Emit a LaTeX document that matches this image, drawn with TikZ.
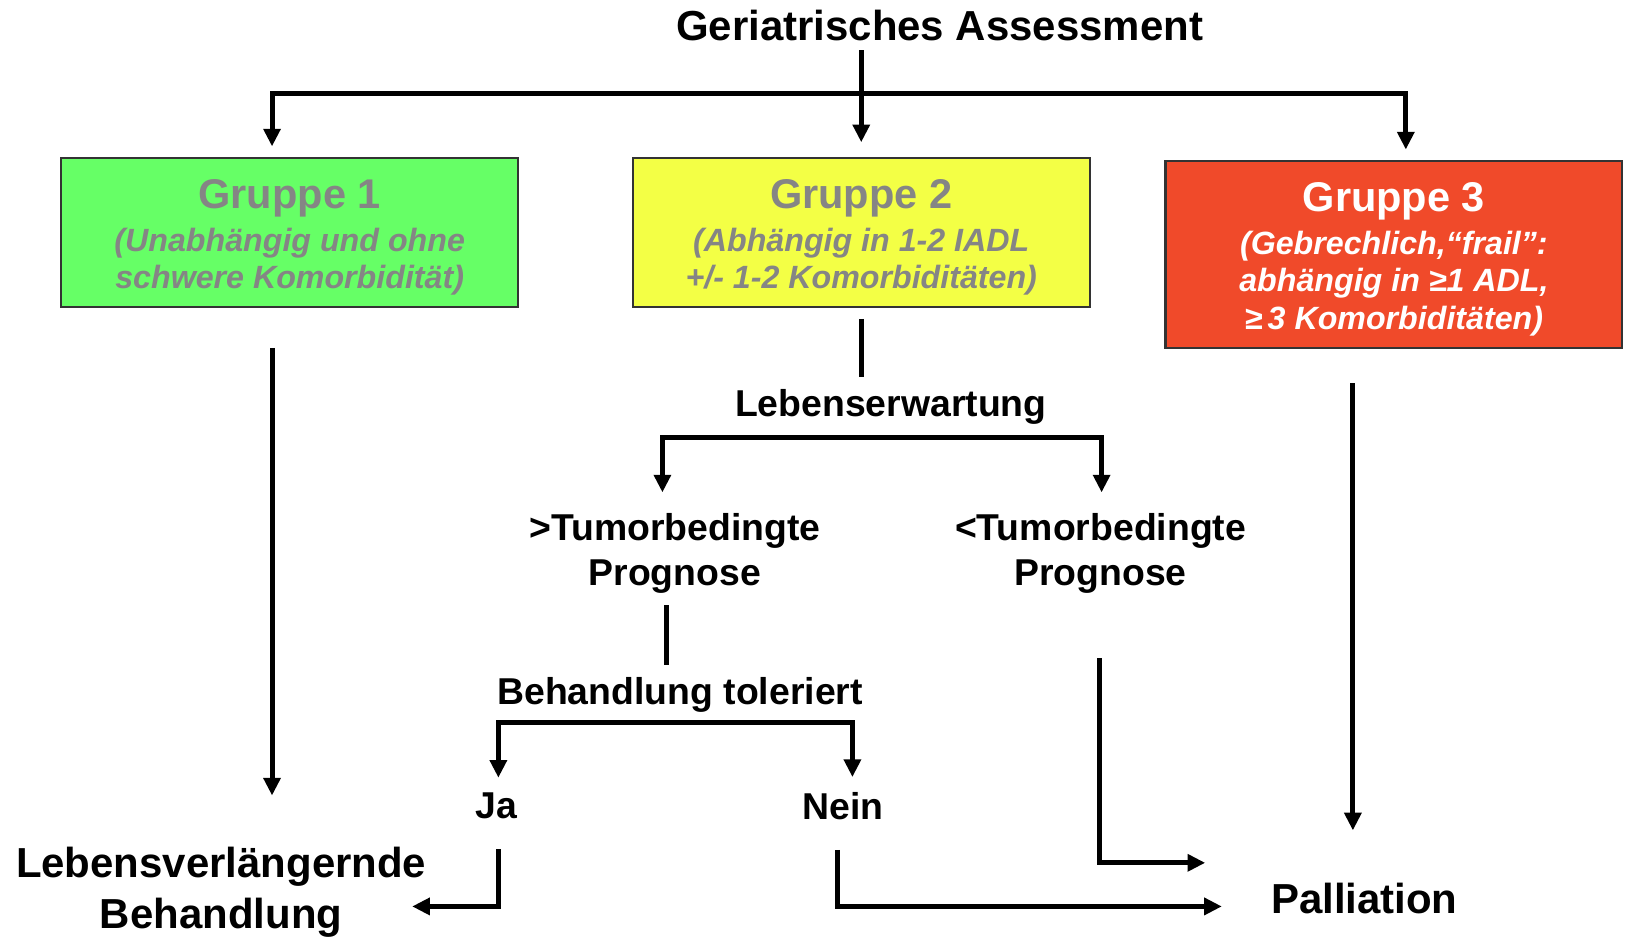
\documentclass[tikz,border=0pt]{standalone}
\usepackage{fontspec}
\setmainfont{Liberation Sans}
\usetikzlibrary{arrows.meta}
\definecolor{gruen}{HTML}{66FF66}
\definecolor{gelb}{HTML}{F3FF45}
\definecolor{rot}{HTML}{F04A2A}
\definecolor{grau}{HTML}{858585}
\tikzset{
  gruppe/.style={draw=black!80, line width=1pt, minimum width=220pt, minimum height=72pt,
    align=center, inner sep=0pt, font=\fontsize{15.5}{18}\selectfont\bfseries\itshape},
  txt/.style={inner sep=0pt, align=center, font=\fontsize{18}{21.5}\selectfont\bfseries},
  bigtxt/.style={inner sep=0pt, align=center, font=\fontsize{20.2}{24.5}\selectfont\bfseries},
  plain/.style={line width=2.4pt},
  flow/.style={line width=2.4pt, -{Triangle[length=8.5pt,width=8pt]}},
  twoway/.style={line width=2.4pt, {Triangle[length=8.5pt,width=8pt]}-{Triangle[length=8.5pt,width=8pt]}},
}
\newcommand{\gtitel}[1]{{\fontsize{20}{24}\selectfont\upshape\rule{0pt}{18.6pt}#1}}
\begin{document}
\begin{tikzpicture}[x=0.5pt,y=-0.5pt]
\useasboundingbox (0,0) rectangle (1568,902);
% Kopf und Gruppen
\node[bigtxt] (assess) at (905,25) {Geriatrisches Assessment};
\node[gruppe, fill=gruen, text=grau] (g1) at (279,224)
  {\gtitel{Gruppe 1}\\[2.5pt](Unabhängig und ohne\\schwere Komorbidität)};
\node[gruppe, fill=gelb, text=grau] (g2) at (829.5,224)
  {\gtitel{Gruppe 2}\\[2.5pt](Abhängig in 1-2 IADL\\+/- 1-2 Komorbiditäten)};
\node[gruppe, fill=rot, text=white, minimum height=90pt] (g3) at (1342.5,245)
  {\gtitel{Gruppe 3}\\[2.5pt](Gebrechlich,“frail”:\\abhängig in ≥1 ADL,\\≥\,3 Komorbiditäten)};
\coordinate (v1) at (262,90);
\coordinate (v3) at (1354,90);
\draw[flow, shorten <=4pt, shorten >=7pt] (assess.south -| g2) -- (g2.north);
\draw[twoway, shorten <=5pt, shorten >=5pt] (v1 |- g1.north) -- (v1) -- (v3) -- (v3 |- g3.north);
% Gruppe 2
\node[txt] (lebens) at (858,392) {Lebenserwartung};
\draw[plain, shorten <=5pt, shorten >=6pt] (g2.south) -- (g2.south |- lebens.north);
\coordinate (e1) at (638,421);
\coordinate (e2) at (1061,421);
\node[txt] (tumhi) at (650,533) {>Tumorbedingte\\Prognose};
\node[txt] (tumlo) at (1060,533) {<Tumorbedingte\\Prognose};
\draw[twoway, shorten <=10pt, shorten >=10pt] (e1 |- tumhi.north) -- (e1) -- (e2) -- (e2 |- tumlo.north);
\node[txt] (toler) at (655,669) {Behandlung toleriert};
\coordinate (v2) at (642,0);
\draw[plain, shorten <=5.5pt, shorten >=5.5pt] (v2 |- tumhi.south) -- (v2 |- toler.north);
\coordinate (j1) at (480,696);
\coordinate (j2) at (821,696);
\node[txt] (ja) at (478,776) {Ja};
\node[txt] (nein) at (812,776) {Nein};
\draw[twoway, shorten <=7pt, shorten >=7pt] (j1 |- ja.north) -- (j1) -- (j2) -- (j2 |- nein.north);
% Ergebnisse
\node[bigtxt] (verl) at (213,859) {Lebensverlängernde\\Behandlung};
\node[bigtxt] (pall) at (1314,865) {Palliation};
\coordinate (jaknick) at (480,873);
\draw[flow, shorten <=14.5pt, shorten >=-7pt] (jaknick |- ja.south) -- (jaknick) -- (jaknick -| verl.east);
\coordinate (neinknick) at (807,873);
\draw[flow, shorten <=14.5pt, shorten >=23.5pt] (neinknick |- nein.south) -- (neinknick) -- (neinknick -| pall.west);
\coordinate (tknick) at (1059,831);
\draw[flow, shorten <=31pt, shorten >=31.5pt] (tknick |- tumlo.south) -- (tknick) -- (tknick -| pall.west);
\draw[flow, shorten <=19pt, shorten >=24.5pt] (v1 |- g1.south) -- (v1 |- verl.north);
\coordinate (v4) at (1303,0);
\draw[flow, shorten <=16.5pt, shorten >=25pt] (v4 |- g3.south) -- (v4 |- pall.north);
\end{tikzpicture}
\end{document}
